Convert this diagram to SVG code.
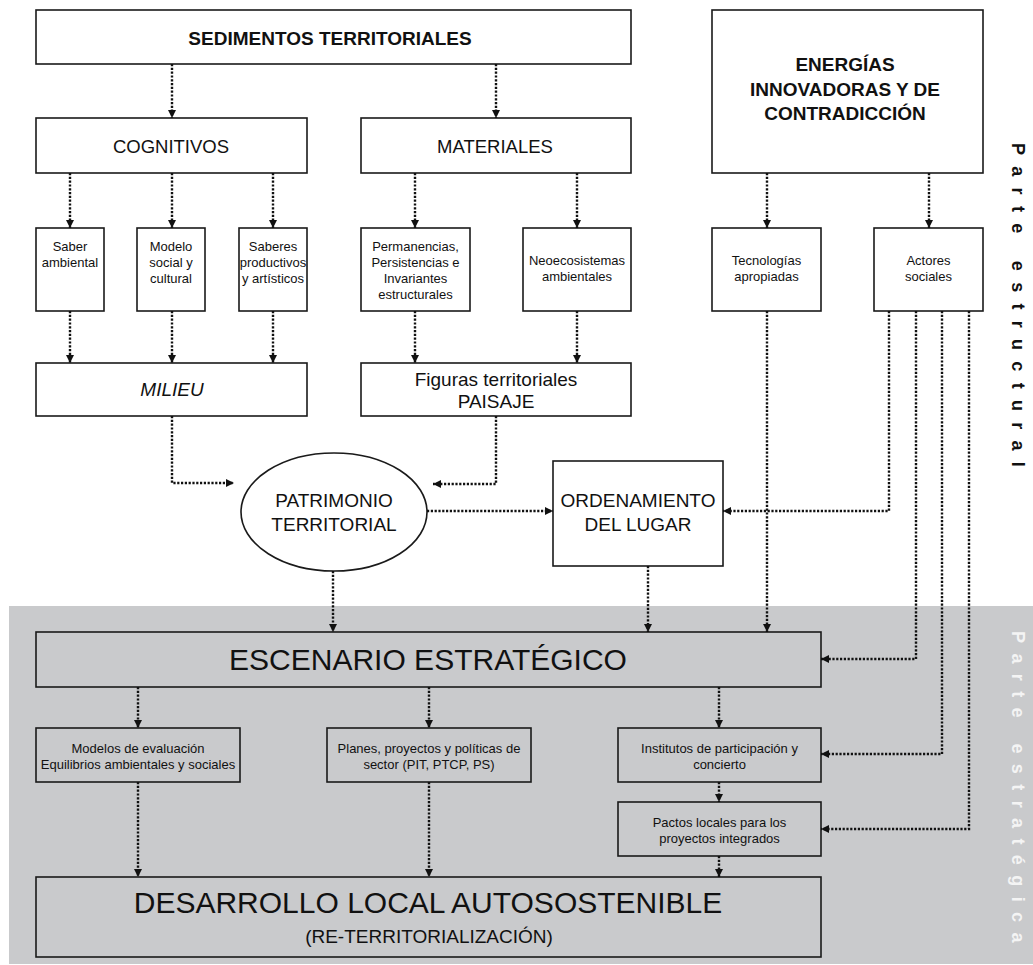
<svg xmlns="http://www.w3.org/2000/svg" width="1033" height="965" viewBox="0 0 1033 965">
<style>
text{font-family:"Liberation Sans",Arial,sans-serif;fill:#111}
.box{fill:#fff;stroke:#1a1a1a;stroke-width:1.6}
.gbox{fill:none;stroke:#1a1a1a;stroke-width:1.6}
.c{text-anchor:middle}
.b{font-weight:bold}
.t19{font-size:19px}
.t18{font-size:18.5px}
.t13{font-size:13px}
.t30{font-size:30px}
.dot{fill:none;stroke:#111;stroke-width:2.4;stroke-dasharray:2.2 1.6}
.side{font-size:18px;font-weight:bold;letter-spacing:11.3px}
</style>
<defs>
<marker id="ah" viewBox="0 0 8 8" refX="8" refY="4" markerWidth="8" markerHeight="8" markerUnits="userSpaceOnUse" orient="auto">
<path d="M0,0 L8,4 L0,8 z" fill="#111"/>
</marker>
</defs>
<rect x="0" y="0" width="1033" height="965" fill="#fff"/>
<rect id="band" x="9" y="606" width="1024" height="358" fill="#c9cacc"/>

<g id="sedimentos"><rect class="box" x="36" y="10" width="595" height="54"/><text class="c b t19" x="330" y="45">SEDIMENTOS TERRITORIALES</text></g>
<g id="energias"><rect class="box" x="712" y="10" width="271" height="163"/>
<text class="c b t19" x="845" y="71">ENERGÍAS</text>
<text class="c b t19" x="845" y="96">INNOVADORAS Y DE</text>
<text class="c b t19" x="845" y="120">CONTRADICCIÓN</text></g>
<g id="cognitivos"><rect class="box" x="36" y="118" width="271" height="55"/><text class="c t18" x="171" y="153">COGNITIVOS</text></g>
<g id="materiales"><rect class="box" x="361" y="118" width="270" height="55"/><text class="c t18" x="495" y="153">MATERIALES</text></g>

<g id="saber"><rect class="box" x="36" y="228" width="68" height="83"/><text class="c t13" x="70" y="251">Saber</text><text class="c t13" x="70" y="267">ambiental</text></g>
<g id="modelo"><rect class="box" x="137" y="228" width="68" height="83"/><text class="c t13" x="171" y="251">Modelo</text><text class="c t13" x="171" y="267">social y</text><text class="c t13" x="171" y="283">cultural</text></g>
<g id="saberes"><rect class="box" x="239" y="228" width="68" height="83"/><text class="c t13" x="273" y="251">Saberes</text><text class="c t13" x="273" y="267">productivos</text><text class="c t13" x="273" y="283">y artísticos</text></g>
<g id="permanencias"><rect class="box" x="361" y="228" width="109" height="83"/><text class="c t13" x="415.5" y="251">Permanencias,</text><text class="c t13" x="415.5" y="267">Persistencias e</text><text class="c t13" x="415.5" y="283">Invariantes</text><text class="c t13" x="415.5" y="299">estructurales</text></g>
<g id="neoeco"><rect class="box" x="523" y="228" width="108" height="83"/><text class="c t13" x="577" y="265">Neoecosistemas</text><text class="c t13" x="577" y="281">ambientales</text></g>
<g id="tecnologias"><rect class="box" x="712" y="228" width="109" height="83"/><text class="c t13" x="766.5" y="265">Tecnologías</text><text class="c t13" x="766.5" y="281">apropiadas</text></g>
<g id="actores"><rect class="box" x="874" y="228" width="109" height="83"/><text class="c t13" x="928.5" y="265">Actores</text><text class="c t13" x="928.5" y="281">sociales</text></g>

<g id="milieu"><rect class="box" x="36" y="363" width="271" height="53"/><text class="c t19" x="172" y="396" font-style="italic">MILIEU</text></g>
<g id="figuras"><rect class="box" x="361" y="363" width="270" height="53"/><text class="c t19" x="496" y="386">Figuras territoriales</text><text class="c t19" x="496" y="408">PAISAJE</text></g>

<g id="patrimonio"><ellipse cx="334" cy="512" rx="93" ry="59" fill="#fff" stroke="#1a1a1a" stroke-width="1.6"/><text class="c t19" x="334" y="507">PATRIMONIO</text><text class="c t19" x="334" y="531">TERRITORIAL</text></g>
<g id="ordenamiento"><rect class="box" x="553" y="461" width="170" height="105"/><text class="c t19" x="638" y="507">ORDENAMIENTO</text><text class="c t19" x="638" y="531">DEL LUGAR</text></g>

<g id="escenario"><rect class="gbox" x="36" y="632" width="785" height="55"/><text class="c t30" x="428" y="670">ESCENARIO ESTRATÉGICO</text></g>
<g id="modelos"><rect class="gbox" x="36" y="728" width="204" height="54"/><text class="c t13" x="138" y="753">Modelos de evaluación</text><text class="c t13" x="138" y="769">Equilibrios ambientales y sociales</text></g>
<g id="planes"><rect class="gbox" x="327" y="728" width="204" height="54"/><text class="c t13" x="429" y="753">Planes, proyectos y políticas de</text><text class="c t13" x="429" y="769">sector (PIT, PTCP, PS)</text></g>
<g id="institutos"><rect class="gbox" x="618" y="728" width="203" height="54"/><text class="c t13" x="719.5" y="753">Institutos de participación y</text><text class="c t13" x="719.5" y="769">concierto</text></g>
<g id="pactos"><rect class="gbox" x="618" y="802" width="203" height="54"/><text class="c t13" x="719.5" y="827">Pactos locales para los</text><text class="c t13" x="719.5" y="843">proyectos integrados</text></g>
<g id="desarrollo"><rect class="gbox" x="36" y="877" width="785" height="80"/><text class="c t30" x="428" y="913">DESARROLLO LOCAL AUTOSOSTENIBLE</text><text class="c t19" x="429" y="943">(RE-TERRITORIALIZACIÓN)</text></g>

<g id="connectors" marker-end="url(#ah)">
<path class="dot" d="M172,64 V118"/>
<path class="dot" d="M496,64 V118"/>
<path class="dot" d="M767,173 V228"/>
<path class="dot" d="M929,173 V228"/>
<path class="dot" d="M70,173 V228"/>
<path class="dot" d="M172,173 V228"/>
<path class="dot" d="M273,173 V228"/>
<path class="dot" d="M415,173 V228"/>
<path class="dot" d="M577,173 V228"/>
<path class="dot" d="M70,311 V363"/>
<path class="dot" d="M172,311 V363"/>
<path class="dot" d="M273,311 V363"/>
<path class="dot" d="M415,311 V363"/>
<path class="dot" d="M577,311 V363"/>
<path class="dot" d="M172,416 V483 H234"/>
<path class="dot" d="M496,416 V484 H433"/>
<path class="dot" d="M427,511 H553"/>
<path class="dot" d="M889,311 V511 H723"/>
<path class="dot" d="M333,571 V632"/>
<path class="dot" d="M648,566 V632"/>
<path class="dot" d="M767,311 V632"/>
<path class="dot" d="M916,311 V659 H821"/>
<path class="dot" d="M942,311 V754 H821"/>
<path class="dot" d="M969,311 V829 H821"/>
<path class="dot" d="M138,687 V728"/>
<path class="dot" d="M429,687 V728"/>
<path class="dot" d="M719,687 V728"/>
<path class="dot" d="M138,782 V877"/>
<path class="dot" d="M429,782 V877"/>
<path class="dot" d="M719,782 V802"/>
<path class="dot" d="M719,856 V877"/>
</g>

<text class="side" transform="translate(1012,143) rotate(90)">Parte estructural</text>
<text class="side" transform="translate(1012,631) rotate(90)" style="fill:#f4f4f4;letter-spacing:10.4px">Parte estratégica</text>
</svg>
